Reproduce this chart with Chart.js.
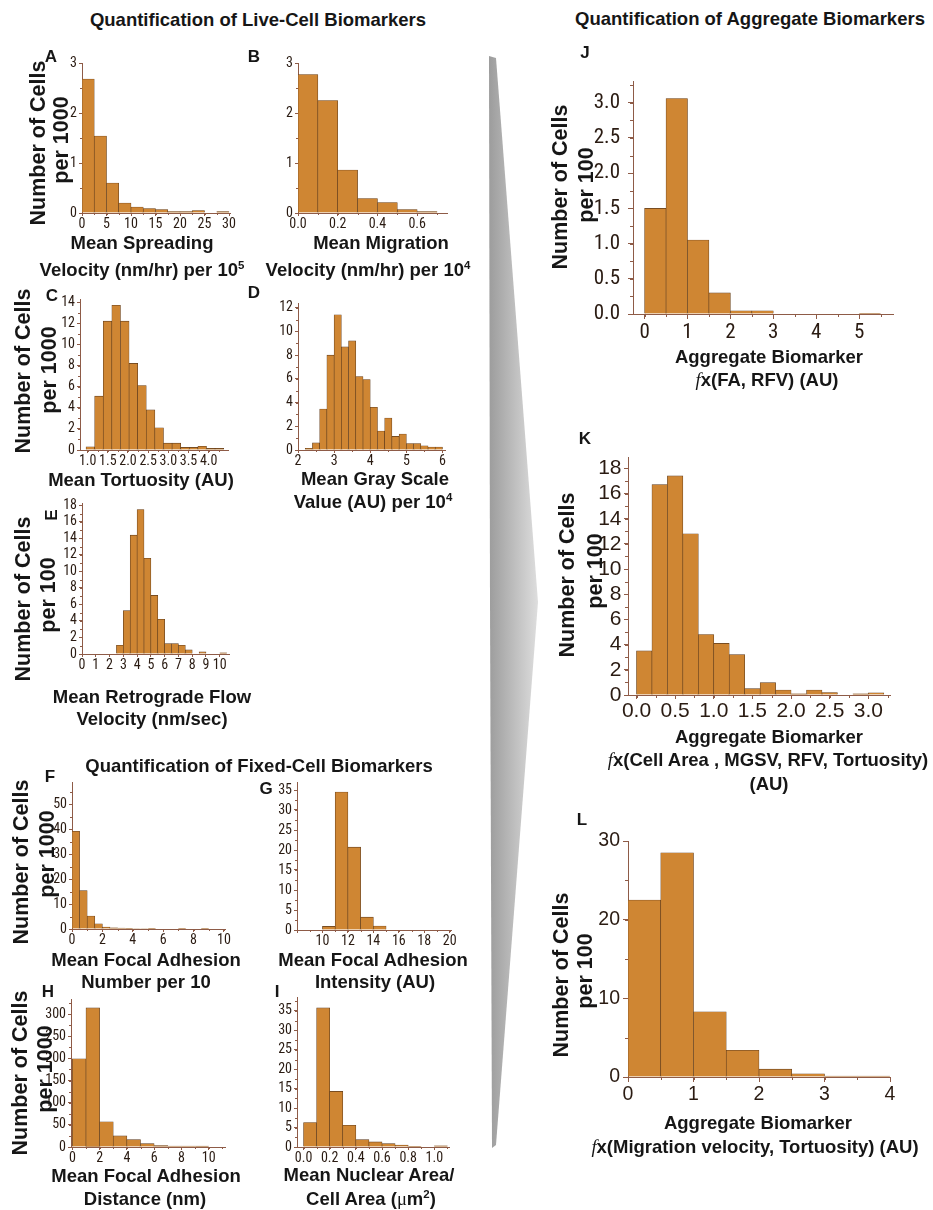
<!DOCTYPE html>
<html lang="en">
<head>
<meta charset="utf-8">
<title>Live-cell, fixed-cell and aggregate biomarker distributions</title>
<script src="https://cdn.jsdelivr.net/npm/chart.js@4.4.1/dist/chart.umd.min.js"></script>
<style>
  html,body{margin:0;padding:0;background:#fff;}
  body{position:relative;width:933px;height:1210px;overflow:hidden;font-family:'Liberation Sans',Arial,Helvetica,sans-serif;color:#161616;}
  .lbl{position:absolute;font-weight:bold;white-space:nowrap;line-height:1;transform:translate(-50%,-50%);z-index:5;}
  .vt{transform:translate(-50%,-50%) rotate(-90deg);}
  .head{font-size:18.5px;}
  .xt{font-size:18.5px;}
  .yt{font-size:21.5px;}
  .pl{font-size:17px;}
  sup{font-size:0.62em;vertical-align:0.55em;line-height:0;}
  .fx{font-family:'Liberation Serif','DejaVu Serif',serif;font-style:italic;font-weight:normal;}
  .mu{font-family:'Liberation Serif','DejaVu Serif',serif;font-weight:normal;}
  canvas{position:absolute;}
  svg.wedge{position:absolute;left:0;top:0;}
</style>
</head>
<body>

<!-- connector wedge between the single-biomarker columns and the aggregate column -->
<svg class="wedge" width="933" height="1210" viewBox="0 0 933 1210">
  <defs>
    <linearGradient id="wedgeFill" x1="0" y1="0" x2="1" y2="0">
      <stop offset="0" stop-color="#9c9c9c"/>
      <stop offset="1" stop-color="#dedede"/>
    </linearGradient>
  </defs>
  <polygon points="489,56 496,58 538,602 496,1145 492,1148 490,602" fill="url(#wedgeFill)"/>
</svg>

<!-- section headings -->
<div class="lbl head" style="left:258px;top:20px">Quantification of Live-Cell Biomarkers</div>
<div class="lbl head" style="left:750px;top:19px">Quantification of Aggregate Biomarkers</div>
<div class="lbl head" style="left:259px;top:766px">Quantification of Fixed-Cell Biomarkers</div>

<!-- panel letters -->
<div class="lbl pl" style="left:51px;top:56px">A</div>
<div class="lbl pl" style="left:254px;top:56px">B</div>
<div class="lbl pl" style="left:52px;top:295px">C</div>
<div class="lbl pl" style="left:254px;top:292px">D</div>
<div class="lbl pl vt" style="left:51px;top:515px">E</div>
<div class="lbl pl" style="left:50px;top:776px">F</div>
<div class="lbl pl" style="left:266px;top:788px">G</div>
<div class="lbl pl" style="left:48px;top:991px">H</div>
<div class="lbl pl" style="left:277px;top:991px">I</div>
<div class="lbl pl" style="left:585px;top:52px">J</div>
<div class="lbl pl" style="left:585px;top:438px">K</div>
<div class="lbl pl" style="left:582px;top:819px">L</div>

<!-- y-axis titles -->
<div class="lbl yt vt" style="left:39px;top:143px">Number of Cells</div>
<div class="lbl yt vt" style="left:62px;top:140px">per 1000</div>
<div class="lbl yt vt" style="left:24px;top:371px">Number of Cells</div>
<div class="lbl yt vt" style="left:50px;top:370px">per 1000</div>
<div class="lbl yt vt" style="left:24px;top:599px">Number of Cells</div>
<div class="lbl yt vt" style="left:49px;top:595px">per 100</div>
<div class="lbl yt vt" style="left:22px;top:862px">Number of Cells</div>
<div class="lbl yt vt" style="left:48px;top:854px">per 1000</div>
<div class="lbl yt vt" style="left:21px;top:1073px">Number of Cells</div>
<div class="lbl yt vt" style="left:46px;top:1069px">per 1000</div>
<div class="lbl yt vt" style="left:561px;top:187px">Number of Cells</div>
<div class="lbl yt vt" style="left:587px;top:185px">per 100</div>
<div class="lbl yt vt" style="left:568px;top:575px">Number of Cells</div>
<div class="lbl yt vt" style="left:596px;top:571px">per 100</div>
<div class="lbl yt vt" style="left:562px;top:975px">Number of Cells</div>
<div class="lbl yt vt" style="left:586px;top:971px">per 100</div>

<!-- x-axis titles -->
<div class="lbl xt" style="left:142px;top:243px">Mean Spreading</div>
<div class="lbl xt" style="left:142px;top:270px">Velocity (nm/hr) per 10<sup>5</sup></div>
<div class="lbl xt" style="left:381px;top:243px">Mean Migration</div>
<div class="lbl xt" style="left:368px;top:270px">Velocity (nm/hr) per 10<sup>4</sup></div>
<div class="lbl xt" style="left:141px;top:480px">Mean Tortuosity (AU)</div>
<div class="lbl xt" style="left:375px;top:479px">Mean Gray Scale</div>
<div class="lbl xt" style="left:373px;top:502px">Value (AU) per 10<sup>4</sup></div>
<div class="lbl xt" style="left:152px;top:697px">Mean Retrograde Flow</div>
<div class="lbl xt" style="left:152px;top:719px">Velocity (nm/sec)</div>
<div class="lbl xt" style="left:146px;top:960px">Mean Focal Adhesion</div>
<div class="lbl xt" style="left:146px;top:982px">Number per 10</div>
<div class="lbl xt" style="left:373px;top:960px">Mean Focal Adhesion</div>
<div class="lbl xt" style="left:375px;top:982px">Intensity (AU)</div>
<div class="lbl xt" style="left:146px;top:1176px">Mean Focal Adhesion</div>
<div class="lbl xt" style="left:145px;top:1199px">Distance (nm)</div>
<div class="lbl xt" style="left:369px;top:1175px">Mean Nuclear Area/</div>
<div class="lbl xt" style="left:371px;top:1199px">Cell Area (<span class="mu">&mu;</span>m<sup>2</sup>)</div>
<div class="lbl xt" style="left:769px;top:357px">Aggregate Biomarker</div>
<div class="lbl xt" style="left:767px;top:380px"><span class="fx">f</span>x(FA, RFV) (AU)</div>
<div class="lbl xt" style="left:769px;top:737px">Aggregate Biomarker</div>
<div class="lbl xt" style="left:768px;top:760px"><span class="fx">f</span>x(Cell Area , MGSV, RFV, Tortuosity)</div>
<div class="lbl xt" style="left:769px;top:784px">(AU)</div>
<div class="lbl xt" style="left:758px;top:1123px">Aggregate Biomarker</div>
<div class="lbl xt" style="left:755px;top:1147px"><span class="fx">f</span>x(Migration velocity, Tortuosity) (AU)</div>

<script>
// ---------- histogram data: bin centres and heights ----------
// A: mean spreading velocity (nm/hr, x1e5), cells per 1000
const binsA   = [1.25, 3.75, 6.25, 8.75, 11.25, 13.75, 16.25, 18.75, 21.25, 23.75, 26.25, 28.75];
const countsA = [2.68, 1.54, 0.60, 0.20, 0.12, 0.09, 0.07, 0.03, 0.03, 0.05, 0.01, 0.03];

// B: mean migration velocity (nm/hr, x1e4), cells per 1000
const binsB   = [0.05, 0.15, 0.25, 0.35, 0.45, 0.55, 0.65];
const countsB = [2.77, 2.25, 0.86, 0.29, 0.21, 0.07, 0.03];

// C: mean tortuosity (AU), cells per 1000
const binsC   = [1.0667, 1.28, 1.4933, 1.7067, 1.92, 2.1333, 2.3467, 2.56, 2.7733, 2.9867, 3.2, 3.4133, 3.6267, 3.84, 4.0533, 4.2667];
const countsC = [0.3, 5.1, 12.2, 13.7, 12.2, 8.2, 6.1, 3.8, 2.1, 0.65, 0.65, 0.25, 0.25, 0.35, 0.15, 0.15];

// D: mean gray scale value (AU, x1e4), cells per 1000
const binsD   = [2.3, 2.5, 2.7, 2.9, 3.1, 3.3, 3.5, 3.7, 3.9, 4.1, 4.3, 4.5, 4.7, 4.9, 5.1, 5.3, 5.5, 5.7, 5.9];
const countsD = [0.15, 0.6, 3.45, 8.0, 11.4, 8.7, 9.2, 6.2, 5.95, 3.6, 1.6, 2.7, 1.15, 1.35, 0.55, 0.55, 0.35, 0.25, 0.25];

// E: mean retrograde flow velocity (nm/sec), cells per 100
const binsE   = [0.25, 0.75, 1.25, 1.75, 2.25, 2.75, 3.25, 3.75, 4.25, 4.75, 5.25, 5.75, 6.25, 6.75, 7.25, 7.75, 8.25, 8.75, 9.25, 9.75, 10.25];
const countsE = [0, 0, 0, 0, 0, 1.05, 5.25, 14.4, 17.5, 11.6, 7.1, 4.2, 1.25, 1.25, 1.05, 0.5, 0, 0.25, 0, 0, 0.15];

// F: mean focal adhesion number (per 10), cells per 1000
const binsF   = [0.25, 0.75, 1.25, 1.75, 2.25, 2.75, 3.25, 3.75, 4.25, 4.75, 5.25, 5.75, 6.25, 6.75, 7.25, 7.75, 8.25, 8.75, 9.25, 9.75];
const countsF = [39.2, 15.4, 5.2, 2.1, 0.8, 0.5, 0.4, 0.3, 0.2, 0.2, 0.1, 0, 0, 0, 0.15, 0, 0, 0.1, 0, 0];

// G: mean focal adhesion intensity (AU), cells per 1000
const binsG   = [10.5, 11.5, 12.5, 13.5, 14.5];
const countsG = [0.9, 34.5, 20.7, 3.2, 1.0];

// H: mean focal adhesion distance (nm), cells per 1000
const binsH   = [0.5, 1.5, 2.5, 3.5, 4.5, 5.5, 6.5, 7.5, 8.5, 9.5];
const countsH = [199, 314, 57, 25, 16.5, 7.5, 3, 2.3, 2.3, 2];

// I: mean nuclear area / cell area, cells per 1000
const binsI   = [0.05, 0.15, 0.25, 0.35, 0.45, 0.55, 0.65, 0.75, 0.85, 0.95, 1.05];
const countsI = [6.3, 35.8, 14.3, 5.6, 1.9, 1.3, 0.85, 0.5, 0.1, 0, 0.3];

// J: aggregate biomarker fx(FA, RFV), cells per 100
const binsJ   = [0.25, 0.75, 1.25, 1.75, 2.25, 2.75, 3.25, 3.75, 4.25, 4.75, 5.25];
const countsJ = [1.5, 3.06, 1.05, 0.3, 0.045, 0.045, 0, 0, 0, 0, 0.01];

// K: aggregate biomarker fx(Cell Area, MGSV, RFV, Tortuosity), cells per 100
const binsK   = [0.1, 0.3, 0.5, 0.7, 0.9, 1.1, 1.3, 1.5, 1.7, 1.9, 2.1, 2.3, 2.5, 2.7, 2.9, 3.1];
const countsK = [3.5, 16.7, 17.4, 12.8, 4.8, 4.1, 3.2, 0.5, 0.98, 0.4, 0.1, 0.4, 0.2, 0, 0.1, 0.18];

// L: aggregate biomarker fx(Migration velocity, Tortuosity), cells per 100
const binsL   = [0.25, 0.75, 1.25, 1.75, 2.25, 2.75, 3.25, 3.75];
const countsL = [22.5, 28.5, 8.3, 3.4, 1.0, 0.4, 0.13, 0.13];

// ---------- styling ----------
const AXIS_COLOR = '#8e5b47';
const TICK_TEXT  = '#2a1b12';
const BAR_FILL   = '#cf8633';
const BAR_EDGE   = '#5c3a1c';
const SANS = "'Liberation Sans', Arial, sans-serif";

// pick a condensed face for the tick numbers when one is installed
function hasFont(name) {
  const ctx = document.createElement('canvas').getContext('2d');
  const sample = 'mmmmmmmmmmwwwlli 0123456789.';
  ctx.font = '40px monospace';
  const base = ctx.measureText(sample).width;
  ctx.font = "40px '" + name + "', monospace";
  return ctx.measureText(sample).width !== base;
}
const condensedName = ['Liberation Sans Narrow', 'Arial Narrow', 'Roboto Condensed', 'Open Sans Condensed']
  .find(hasFont);
const NARROW = condensedName ? "'" + condensedName + "', " + SANS : SANS;

// short unlabelled ticks between the labelled ones
const minorTickPlugin = {
  id: 'minorTicks',
  afterDraw(chart, args, opts) {
    const {ctx} = chart;
    const xs = chart.scales.x, ys = chart.scales.y;
    ctx.save();
    ctx.strokeStyle = AXIS_COLOR;
    ctx.lineWidth = 1;
    if (opts.y) {
      const n0 = Math.ceil(ys.min / opts.y - 1e-9);
      for (let i = n0; i * opts.y <= ys.max + 1e-9; i++) {
        const p = Math.round(ys.getPixelForValue(i * opts.y)) + 0.5;
        ctx.beginPath(); ctx.moveTo(ys.right - opts.len, p); ctx.lineTo(ys.right, p); ctx.stroke();
      }
    }
    if (opts.x) {
      const n0 = Math.ceil(xs.min / opts.x - 1e-9);
      for (let i = n0; i * opts.x <= xs.max + 1e-9; i++) {
        const p = Math.round(xs.getPixelForValue(i * opts.x)) + 0.5;
        ctx.beginPath(); ctx.moveTo(p, xs.top); ctx.lineTo(p, xs.top + opts.len); ctx.stroke();
      }
    }
    ctx.restore();
  }
};
Chart.register(minorTickPlugin);

const SMALL = condensedName
  ? {size: 14, family: NARROW, tick: 3, xPad: 0, yPad: 2, minorLen: 2}
  : {size: 13, family: SANS, tick: 3, xPad: 0, yPad: 2, minorLen: 2};

function histogram(bins, counts, frame, xAxis, yAxis, look) {
  const ML = 64, MR = 26, MT = 16, MB = 46;
  const w = frame.right - frame.left + ML + MR;
  const h = frame.bottom - frame.top + MT + MB;
  const canvas = document.createElement('canvas');
  canvas.width = w; canvas.height = h;
  canvas.style.left = (frame.left - ML) + 'px';
  canvas.style.top = (frame.top - MT) + 'px';
  canvas.style.width = w + 'px';
  canvas.style.height = h + 'px';
  document.body.appendChild(canvas);

  const font = {family: look.family, size: look.size};
  const fmt = (dec, hide) => v => (hide && hide.some(hv => Math.abs(hv - v) < 1e-9)) ? '' : Number(v).toFixed(dec);

  new Chart(canvas, {
    type: 'bar',
    data: {
      datasets: [{
        data: bins.map((b, i) => ({x: b, y: counts[i]})),
        backgroundColor: BAR_FILL,
        borderColor: BAR_EDGE,
        borderWidth: 0.6,
        barPercentage: 1,
        categoryPercentage: 1
      }]
    },
    options: {
      responsive: false,
      animation: false,
      devicePixelRatio: 1,
      layout: {padding: {left: 0, top: MT, right: MR, bottom: 0}},
      plugins: {
        legend: {display: false},
        tooltip: {enabled: false},
        minorTicks: {x: xAxis.minor, y: yAxis.minor, len: look.minorLen}
      },
      scales: {
        x: {
          type: 'linear',
          min: xAxis.min, max: xAxis.max,
          offset: false,
          grid: {offset: false, drawOnChartArea: false, drawTicks: true, tickLength: look.tick, color: AXIS_COLOR, tickColor: AXIS_COLOR},
          border: {display: true, color: AXIS_COLOR, width: 1},
          ticks: {stepSize: xAxis.step, includeBounds: false, autoSkip: false, maxRotation: 0, minRotation: 0,
                  padding: look.xPad, color: TICK_TEXT, font, callback: fmt(xAxis.dec, xAxis.hide)},
          afterFit: s => { s.height = MB; }
        },
        y: {
          type: 'linear',
          min: 0, max: yAxis.max,
          grid: {drawOnChartArea: false, drawTicks: true, tickLength: look.tick, color: AXIS_COLOR, tickColor: AXIS_COLOR},
          border: {display: true, color: AXIS_COLOR, width: 1},
          ticks: {stepSize: yAxis.step, includeBounds: false, autoSkip: false,
                  padding: look.yPad, color: TICK_TEXT, font, callback: fmt(yAxis.dec)},
          afterFit: s => { s.width = ML; }
        }
      }
    }
  });
}

// ---------- live-cell biomarkers ----------
histogram(binsA, countsA, {left: 82, right: 230, top: 63, bottom: 213},
  {min: 0, max: 30.2, step: 5, dec: 0, minor: 2.5}, {max: 3, step: 1, dec: 0, minor: 0.5}, SMALL);
histogram(binsB, countsB, {left: 298, right: 447, top: 63, bottom: 213},
  {min: 0, max: 0.75, step: 0.2, dec: 1, minor: 0.1}, {max: 3, step: 1, dec: 0, minor: 0.5}, SMALL);
histogram(binsC, countsC, {left: 80, right: 228, top: 299, bottom: 450},
  {min: 0.81, max: 4.48, step: 0.5, dec: 1, minor: 0.25}, {max: 14.3, step: 2, dec: 0, minor: 1}, SMALL);
histogram(binsD, countsD, {left: 298, right: 445, top: 303, bottom: 450},
  {min: 2, max: 6.07, step: 1, dec: 0, minor: 0.5}, {max: 12.4, step: 2, dec: 0, minor: 1}, SMALL);
histogram(binsE, countsE, {left: 82, right: 229, top: 503, bottom: 654},
  {min: 0, max: 10.67, step: 1, dec: 0, minor: 0}, {max: 18.3, step: 2, dec: 0, minor: 1}, SMALL);

// ---------- fixed-cell biomarkers ----------
histogram(binsF, countsF, {left: 72, right: 225, top: 782, bottom: 929},
  {min: 0, max: 10.07, step: 2, dec: 0, minor: 1}, {max: 59, step: 10, dec: 0, minor: 5}, SMALL);
histogram(binsG, countsG, {left: 297, right: 451, top: 782, bottom: 930},
  {min: 8, max: 20.1, step: 2, dec: 0, minor: 1, hide: [8]}, {max: 37, step: 5, dec: 0, minor: 2.5}, SMALL);
histogram(binsH, countsH, {left: 71, right: 225, top: 999, bottom: 1147},
  {min: -0.1, max: 11.2, step: 2, dec: 0, minor: 1}, {max: 334, step: 50, dec: 0, minor: 25}, SMALL);
histogram(binsI, countsI, {left: 297, right: 449, top: 997, bottom: 1147},
  {min: -0.05, max: 1.112, step: 0.2, dec: 1, minor: 0.1}, {max: 38.6, step: 5, dec: 0, minor: 2.5}, SMALL);

// ---------- aggregate biomarkers ----------
histogram(binsJ, countsJ, {left: 633, right: 893, top: 77, bottom: 314},
  {min: -0.27, max: 5.79, step: 1, dec: 0, minor: 0.5}, {max: 3.3, step: 0.5, dec: 1, minor: 0.25},
  condensedName ? {size: 21, family: NARROW, tick: 5, xPad: 1, yPad: 8, minorLen: 3}
                : {size: 18, family: SANS, tick: 5, xPad: 2, yPad: 8, minorLen: 3});
histogram(binsK, countsK, {left: 628, right: 890, top: 457, bottom: 695},
  {min: -0.11, max: 3.28, step: 0.5, dec: 1, minor: 0.25}, {max: 18.9, step: 2, dec: 0, minor: 1},
  {size: 21, family: SANS, tick: 4, xPad: 0, yPad: 2.5, minorLen: 3});
histogram(binsL, countsL, {left: 628, right: 890, top: 841, bottom: 1077},
  {min: 0, max: 4, step: 1, dec: 0, minor: 0.5}, {max: 30, step: 10, dec: 0, minor: 5},
  {size: 19.5, family: SANS, tick: 5, xPad: 1, yPad: 3, minorLen: 3});
</script>
</body>
</html>
